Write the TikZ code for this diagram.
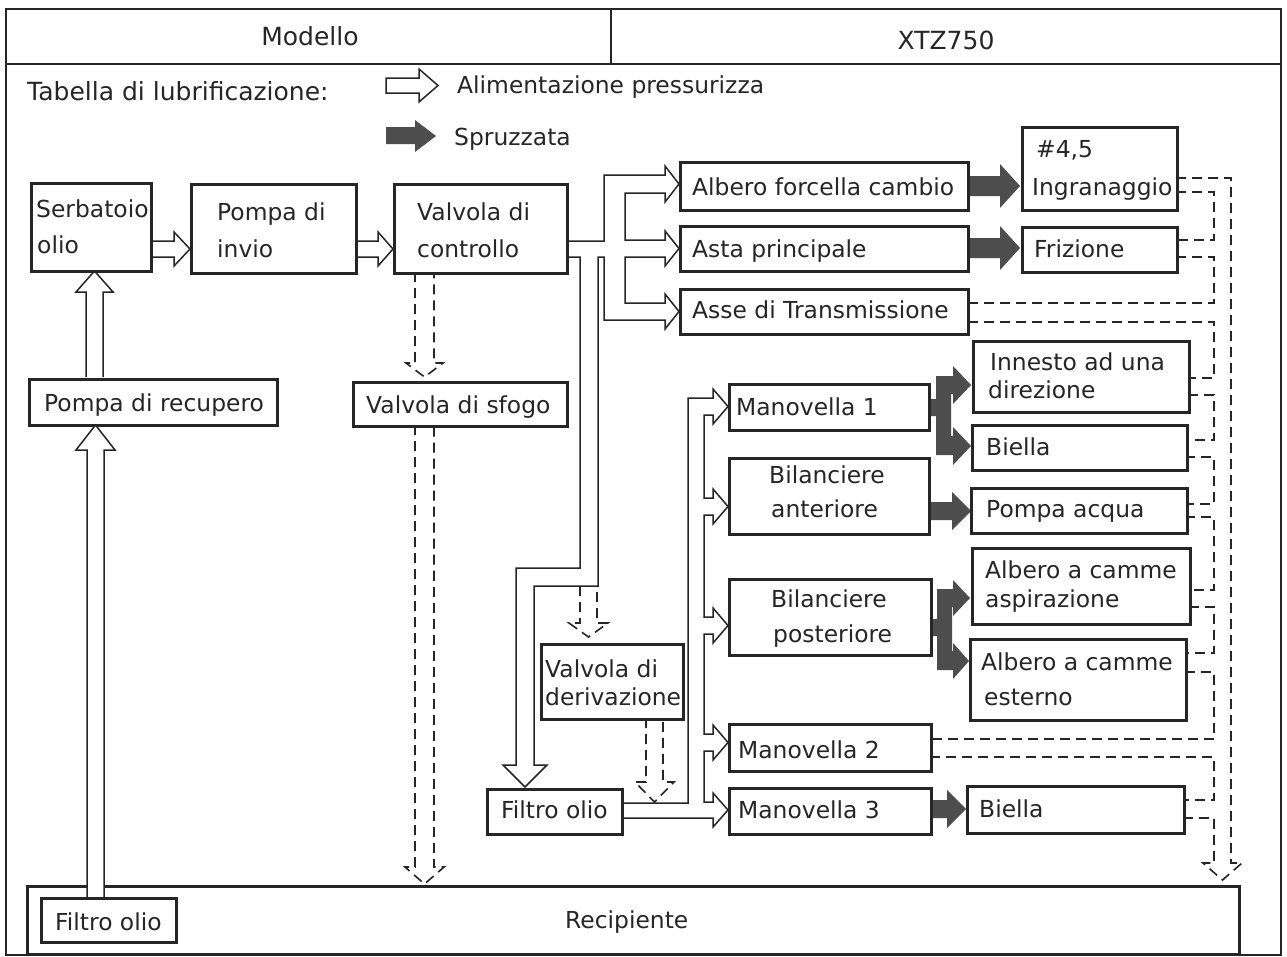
\documentclass[tikz,border=0pt]{standalone}
\usepackage{fontspec}
\setmainfont{DejaVu Sans}
\definecolor{ink}{HTML}{262626}
\definecolor{spraycol}{HTML}{4D4D4D}
\newcommand\bx[5]{\node[box, anchor=north west, minimum width={#4pt-#2pt}, minimum height={#5pt-#3pt}] (#1) at (#2,#3) {};}
\begin{document}
\begin{tikzpicture}[x=1pt,y=-1pt,
  box/.style={draw=ink, line width=2.6pt, fill=white, inner sep=0pt},
  pipe/.style={draw=ink, line width=1.5pt, fill=white, line join=miter},
  spray/.style={fill=spraycol},
  ret/.style={draw=ink, line width=1.6pt, dash pattern=on 10pt off 6pt},
  txt/.style={inner sep=0pt, anchor=base west, font=\fontsize{23.4}{28}\selectfont, text=ink},
  big/.style={txt, font=\fontsize{25}{30}\selectfont}]
\useasboundingbox (0,0) rectangle (1287,956);
\fill[white] (0,0) rectangle (1287,956);
% frame
\draw[ink, line width=2.8pt] (6,9) rectangle (1281,955);
\draw[ink, line width=2pt] (6,64) -- (1281,64);
\draw[ink, line width=1.5pt] (611,9) -- (611,64);
% legend
\draw[pipe] (386,78) -- (419,78) -- (419,69) -- (438,85.5) -- (419,102) -- (419,93) -- (386,93) -- cycle;
\fill[spray] (386,127) -- (415,127) -- (415,120) -- (436,136) -- (415,152) -- (415,144) -- (386,144) -- cycle;
% pressure pipes
\draw[pipe] (566,241) -- (604,241) -- (604,175) -- (665,175) -- (665,166) -- (679,184) -- (665,202) -- (665,193) -- (625,193) -- (625,240) -- (665,240) -- (665,231) -- (679,248.5) -- (665,266) -- (665,257) -- (625,257) -- (625,303) -- (665,303) -- (665,294) -- (679,311.5) -- (665,329) -- (665,320) -- (604,320) -- (604,257) -- (598,257) -- (598,586) -- (534,586) -- (534,765) -- (547,765) -- (525,787) -- (503,765) -- (516,765) -- (516,568) -- (580,568) -- (580,257) -- (566,257);
\draw[pipe] (621,803) -- (688,803) -- (688,398) -- (713,398) -- (713,389) -- (728,406.5) -- (713,424) -- (713,415) -- (704,415) -- (704,498) -- (713,498) -- (713,489) -- (728,506.5) -- (713,524) -- (713,515) -- (704,515) -- (704,617) -- (713,617) -- (713,608) -- (728,625.5) -- (713,643) -- (713,634) -- (704,634) -- (704,734) -- (713,734) -- (713,725) -- (728,742.5) -- (713,760) -- (713,751) -- (704,751) -- (704,802) -- (713,802) -- (713,793) -- (728,810) -- (713,827) -- (713,818) -- (621,818);
\draw[pipe] (150,241) -- (174,241) -- (174,232) -- (190,249) -- (174,266) -- (174,257) -- (150,257);
\draw[pipe] (355,241) -- (378,241) -- (378,232) -- (393,249) -- (378,266) -- (378,257) -- (355,257);
\draw[pipe] (86,377) -- (86,292) -- (76,292) -- (94.5,271) -- (113,292) -- (103,292) -- (103,377);
% spray arrows
\fill[spray] (968,176) -- (1000,176) -- (1000,164) -- (1020,186) -- (1000,208) -- (1000,196) -- (968,196) -- cycle;
\fill[spray] (968,238) -- (1000,238) -- (1000,226) -- (1020,248) -- (1000,270) -- (1000,258) -- (968,258) -- cycle;
\fill[spray] (928,502) -- (952,502) -- (952,492) -- (971,511) -- (952,530) -- (952,520) -- (928,520) -- cycle;
\fill[spray] (930,800) -- (947,800) -- (947,790) -- (966,809) -- (947,828) -- (947,818) -- (930,818) -- cycle;
\fill[spray] (928,399) -- (936,399) -- (936,376) -- (953,376) -- (953,366) -- (971,385) -- (953,404) -- (953,394) -- (951,394) -- (951,436) -- (953,436) -- (953,427) -- (971,446) -- (953,465) -- (953,455) -- (936,455) -- (936,416) -- (928,416) -- cycle;
\fill[spray] (930,619) -- (937,619) -- (937,589) -- (953,589) -- (953,580) -- (970,598) -- (953,616) -- (953,607) -- (952,607) -- (952,651) -- (953,651) -- (953,643) -- (969,661) -- (953,679) -- (953,670) -- (937,670) -- (937,636) -- (930,636) -- cycle;
% return (dashed)
\draw[ret] (415,272) -- (415,363) -- (406,363) -- (424.5,377) -- (443,363) -- (434,363) -- (434,272);
\draw[ret] (415,425) -- (415,867) -- (405,867) -- (424.5,884) -- (444,867) -- (434,867) -- (434,425);
\draw[ret] (580,586) -- (580,623) -- (569,623) -- (588.5,637) -- (608,623) -- (597,623) -- (597,586);
\draw[ret] (646,718) -- (646,782) -- (635,782) -- (654.5,802) -- (674,782) -- (663,782) -- (663,718);
\draw[ret] (1176,178) -- (1231,178) -- (1231,863) -- (1242,863) -- (1222.5,880) -- (1203,863) -- (1214,863) -- (1214,818) -- (1183,818);
\draw[ret] (1176,192) -- (1214,192) -- (1214,240) -- (1176,240);
\draw[ret] (1176,257) -- (1214,257) -- (1214,303) -- (968,303);
\draw[ret] (968,322) -- (1214,322) -- (1214,378) -- (1188,378);
\draw[ret] (1188,395) -- (1214,395) -- (1214,440) -- (1185,440);
\draw[ret] (1185,457) -- (1214,457) -- (1214,504) -- (1185,504);
\draw[ret] (1185,517) -- (1214,517) -- (1214,590) -- (1189,590);
\draw[ret] (1189,607) -- (1214,607) -- (1214,653) -- (1185,653);
\draw[ret] (1185,672) -- (1214,672) -- (1214,739) -- (930,739);
\draw[ret] (930,757) -- (1214,757) -- (1214,800) -- (1183,800);
% boxes
\bx{serb}{30}{182}{150}{270}
\bx{pinv}{190}{183}{355}{272}
\bx{vctl}{393}{183}{566}{272}
\bx{prec}{28}{378}{276}{424}
\bx{vsf}{352}{381}{566}{425}
\bx{afc}{679}{161}{967}{209}
\bx{asta}{679}{225}{967}{270}
\bx{asse}{679}{288}{967}{333}
\bx{ingr}{1021}{126}{1176}{209}
\bx{friz}{1021}{226}{1176}{271}
\bx{inn}{972}{340}{1188}{411}
\bx{bie1}{971}{424}{1186}{469}
\bx{pacq}{970}{487}{1186}{532}
\bx{asp}{971}{547}{1189}{623}
\bx{est}{969}{638}{1185}{719}
\bx{bie3}{966}{785}{1183}{832}
\bx{man1}{728}{383}{928}{429}
\bx{bant}{728}{457}{928}{533}
\bx{bpost}{728}{578}{930}{654}
\bx{man2}{728}{723}{930}{770}
\bx{man3}{728}{787}{930}{833}
\bx{vder}{540}{643}{682}{718}
\bx{film}{486}{788}{621}{833}
\bx{recip}{26}{885}{1238}{953}
\draw[pipe] (87,897) -- (87,450) -- (76,450) -- (95.5,425) -- (115,450) -- (104,450) -- (104,897);
\bx{filb}{40}{897}{175}{941}
% texts
\node[big, anchor=base] (tmod) at (310,45) {Modello};
\node[big, anchor=base] (txtz) at (946,49) {XTZ750};
\node[big] (ttab) at (27,100) {Tabella di lubrificazione:};
\node[txt] (tali) at (457,93) {Alimentazione pressurizza};
\node[txt] (tspr) at (454,145) {Spruzzata};
\node[txt] (tserb1) at (36,217) {Serbatoio};
\node[txt] (tserb2) at (37,253) {olio};
\node[txt] (tpinv1) at (217,220) {Pompa di};
\node[txt] (tpinv2) at (217,257) {invio};
\node[txt] (tvctl1) at (417,220) {Valvola di};
\node[txt] (tvctl2) at (417,257) {controllo};
\node[txt] (tprec) at (44,411) {Pompa di recupero};
\node[txt] (tvsf) at (366,413) {Valvola di sfogo};
\node[txt] (tafc) at (692,195) {Albero forcella cambio};
\node[txt] (tasta) at (692,257) {Asta principale};
\node[txt] (tasse) at (692,318) {Asse di Transmissione};
\node[txt] (tingr1) at (1036,157) {\#4,5};
\node[txt] (tingr2) at (1032,195) {Ingranaggio};
\node[txt] (tfriz) at (1034,257) {Frizione};
\node[txt] (tinn1) at (990,370) {Innesto ad una};
\node[txt] (tinn2) at (988,398) {direzione};
\node[txt] (tbie1) at (986,455) {Biella};
\node[txt] (tpacq) at (986,517) {Pompa acqua};
\node[txt] (tasp1) at (985,578) {Albero a camme};
\node[txt] (tasp2) at (985,607) {aspirazione};
\node[txt] (test1) at (981,670) {Albero a camme};
\node[txt] (test2) at (984,705) {esterno};
\node[txt] (tbie3) at (979,817) {Biella};
\node[txt] (tman1) at (736,415) {Manovella 1};
\node[txt] (tbant1) at (769,483) {Bilanciere};
\node[txt] (tbant2) at (771,517) {anteriore};
\node[txt] (tbpost1) at (771,607) {Bilanciere};
\node[txt] (tbpost2) at (773,642) {posteriore};
\node[txt] (tman2) at (738,758) {Manovella 2};
\node[txt] (tman3) at (738,818) {Manovella 3};
\node[txt] (tvder1) at (545,677) {Valvola di};
\node[txt] (tvder2) at (545,705) {derivazione};
\node[txt] (tfilm) at (501,818) {Filtro olio};
\node[txt] (trecip) at (565,928) {Recipiente};
\node[txt] (tfilb) at (55,930) {Filtro olio};
\end{tikzpicture}
\end{document}
